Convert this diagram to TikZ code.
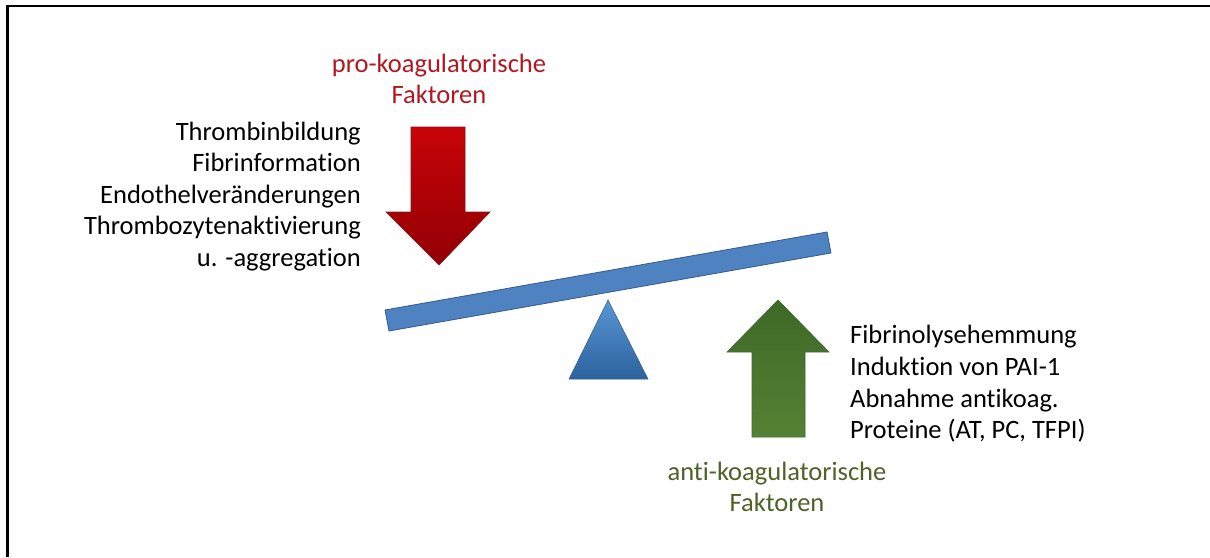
\documentclass[tikz,border=0pt]{standalone}
\usepackage{fontspec}
\setmainfont{Carlito}[Ligatures=NoCommon]
\definecolor{protext}{RGB}{178,24,32}
\definecolor{antitext}{RGB}{79,98,40}
\definecolor{redtop}{RGB}{200,4,8}
\definecolor{redbot}{RGB}{145,0,4}
\definecolor{redline}{RGB}{130,20,30}
\definecolor{greentop}{RGB}{62,104,38}
\definecolor{greenbot}{RGB}{84,130,52}
\definecolor{greenline}{RGB}{70,100,60}
\definecolor{beamfill}{RGB}{79,130,192}
\definecolor{beamline}{RGB}{52,92,142}
\definecolor{tritop}{RGB}{88,150,212}
\definecolor{tribot}{RGB}{44,98,158}
\begin{document}
\begin{tikzpicture}[x=1pt,y=-1pt,
  txt/.style={inner sep=0pt, font=\fontsize{26.5}{31.5}\selectfont},
  protxt/.style={txt, text=protext, anchor=base},
  antitxt/.style={txt, text=antitext, anchor=base},
  lefttxt/.style={txt, anchor=base east},
  righttxt/.style={txt, anchor=base west}]
\useasboundingbox (0,0) rectangle (1210,557);
\fill[white] (0,0) rectangle (1210,557);
% frame (top and left only)
\draw[line width=2.4pt] (7.5,557) -- (7.5,6) -- (1210,6);

% pro-coagulatory arrow (down)
\shadedraw[top color=redtop, bottom color=redbot, draw=redline, line width=0.6pt]
  (411,127) -- (465,127) -- (465,212) -- (490,212) -- (439,265) -- (386,212) -- (411,212) -- cycle;

% anti-coagulatory arrow (up)
\shadedraw[top color=greentop, bottom color=greenbot, draw=greenline, line width=0.6pt]
  (778,300) -- (829,352) -- (805,352) -- (805,437) -- (752,437) -- (752,352) -- (727,352) -- cycle;

% beam
\filldraw[fill=beamfill, draw=beamline, line width=0.8pt]
  (385,310) -- (827,232) -- (831,253) -- (389,331) -- cycle;

% fulcrum
\shadedraw[top color=tritop, bottom color=tribot, draw=beamline, line width=0.5pt]
  (608,300) -- (648,379) -- (569,379) -- cycle;

% texts
\node[protxt] (p1) at (439,72) {pro-koagulatorische};
\node[protxt] (p2) at (439,103) {Faktoren};

\node[lefttxt] (l1) at (361,140) {Thrombinbildung};
\node[lefttxt] (l2) at (361,171.5) {Fibrinformation};
\node[lefttxt] (l3) at (361,203) {Endothelveränderungen};
\node[lefttxt] (l4) at (361,234.5) {Thrombozytenaktivierung};
\node[lefttxt] (l5) at (361,266) {u. -aggregation};

\node[righttxt] (r1) at (850,343) {Fibrinolysehemmung};
\node[righttxt] (r2) at (850,375) {Induktion von PAI-1};
\node[righttxt] (r3) at (850,407) {Abnahme antikoag.};
\node[righttxt] (r4) at (850,438) {Proteine (AT, PC, TFPI)};

\node[antitxt] (a1) at (777,480) {anti-koagulatorische};
\node[antitxt] (a2) at (777,511) {Faktoren};
\end{tikzpicture}
\end{document}
